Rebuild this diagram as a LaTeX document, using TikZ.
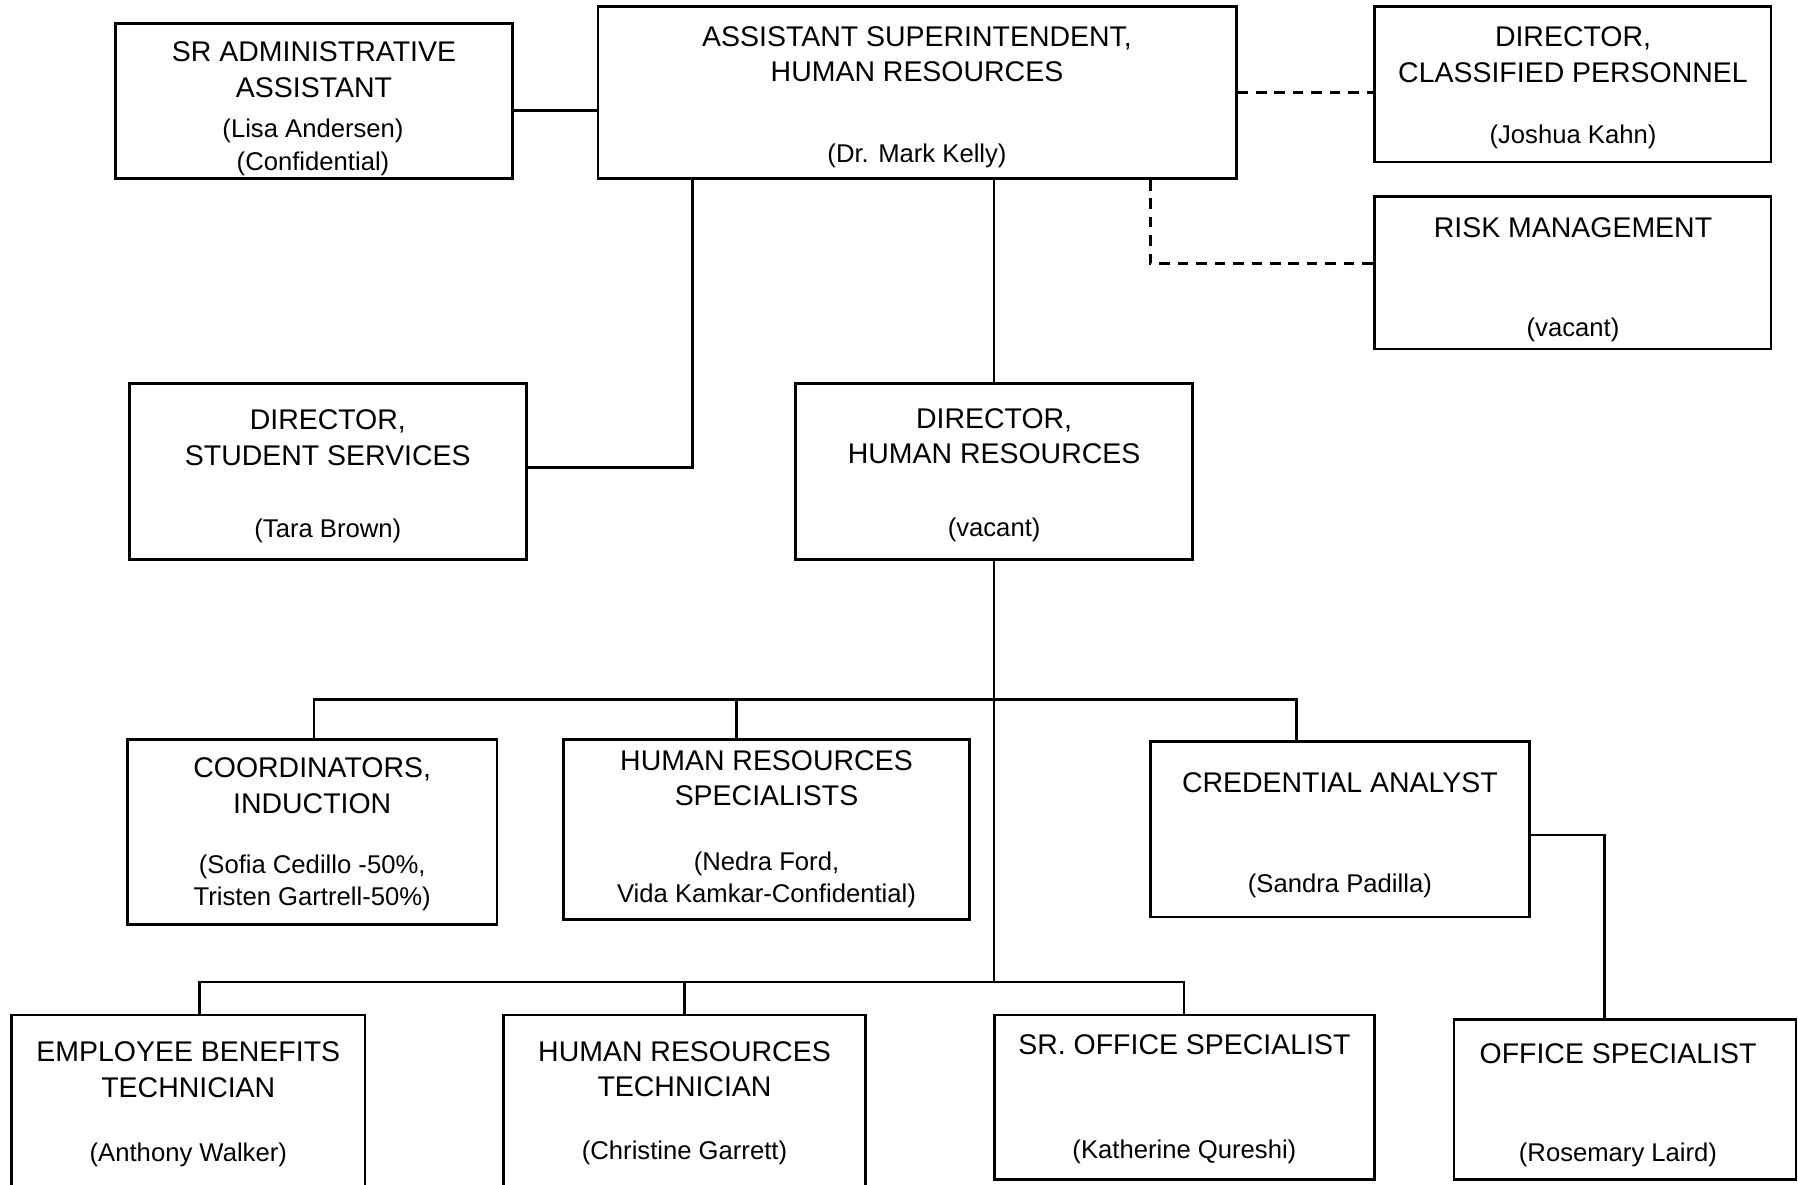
\documentclass[tikz,border=0pt]{standalone}
\usepackage{fontspec}
\setmainfont{Liberation Sans}
\usetikzlibrary{fit}

\begin{document}
\begin{tikzpicture}[x=0.02cm, y=-0.02cm,
    box/.style={draw, line width=1.5pt, inner sep=0pt},
    head/.style={align=center, inner sep=0pt, font=\fontsize{16.2}{20.2}\selectfont},
    who/.style={align=center, inner sep=0pt, font=\fontsize{14.6}{18.6}\selectfont},
    link/.style={line width=1.5pt},
    dashlink/.style={link, dash pattern=on 6pt off 4.5pt}]
    \useasboundingbox (0,0) rectangle (1798,1185);
    %boxes, corners in pixels of the chart
    \node[box, fit={(115.4,23.7) (512.6,178.7)}] (sradmin) {};
    \node[box, fit={(598,6.5) (1236.2,178.7)}] (asup) {};
    \node[box, fit={(1374.2,6.5) (1771,161.9)}] (dircp) {};
    \node[box, fit={(1374.2,196.7) (1771,349)}] (risk) {};
    \node[box, fit={(129.2,383.5) (526.3,559.5)}] (dss) {};
    \node[box, fit={(795.6,383.5) (1192.6,559.5)}] (dirhr) {};
    \node[box, fit={(127.4,739.5) (497,924.2)}] (coord) {};
    \node[box, fit={(563.7,739.5) (969.3,919.8)}] (hrspec) {};
    \node[box, fit={(1150.3,741.8) (1529.4,917.1)}] (cred) {};
    \node[box, fit={(11.5,1014.9) (365,1192)}] (ebt) {};
    \node[box, fit={(503.4,1014.9) (865.6,1192)}] (hrtech) {};
    \node[box, fit={(994.5,1014.9) (1374.2,1179.4)}] (sroff) {};
    \node[box, fit={(1453.8,1019.4) (1796,1179.4)}] (offsp) {};

    %titles and names
    \node[head] (sradmin-t) at (314,69.9) {SR ADMINISTRATIVE\\ASSISTANT};
    \node[who] (sradmin-n) at (313,147.5) {(Lisa Andersen)\\(Confidential)};
    \node[head] (asup-t) at (917,54.2) {ASSISTANT SUPERINTENDENT,\\HUMAN RESOURCES};
    \node[who] (asup-n) at (917,155.5) {(Dr. Mark Kelly)};
    \node[head] (dircp-t) at (1573,54.5) {DIRECTOR,\\CLASSIFIED PERSONNEL};
    \node[who] (dircp-n) at (1573,136.5) {(Joshua Kahn)};
    \node[head] (risk-t) at (1573,227.7) {RISK MANAGEMENT};
    \node[who] (risk-n) at (1573,330) {(vacant)};
    \node[head] (dss-t) at (327.8,437.6) {DIRECTOR,\\STUDENT SERVICES};
    \node[who] (dss-n) at (327.8,531) {(Tara Brown)};
    \node[head] (dirhr-t) at (994.1,436.3) {DIRECTOR,\\HUMAN RESOURCES};
    \node[who] (dirhr-n) at (994.1,530) {(vacant)};
    \node[head] (coord-t) at (312.2,785.6) {COORDINATORS,\\INDUCTION};
    \node[who] (coord-n) at (312.2,883) {(Sofia Cedillo -50\%,\\Tristen Gartrell-50\%)};
    \node[head] (hrspec-t) at (766.5,778) {HUMAN RESOURCES\\SPECIALISTS};
    \node[who] (hrspec-n) at (766.5,880) {(Nedra Ford,\\Vida Kamkar-Confidential)};
    \node[head] (cred-t) at (1339.9,782.8) {CREDENTIAL ANALYST};
    \node[who] (cred-n) at (1339.9,885.5) {(Sandra Padilla)};
    \node[head] (ebt-t) at (188.3,1069.8) {EMPLOYEE BENEFITS\\TECHNICIAN};
    \node[who] (ebt-n) at (188.3,1155) {(Anthony Walker)};
    \node[head] (hrtech-t) at (684.5,1069) {HUMAN RESOURCES\\TECHNICIAN};
    \node[who] (hrtech-n) at (684.5,1153) {(Christine Garrett)};
    \node[head] (sroff-t) at (1184.4,1044.7) {SR. OFFICE SPECIALIST};
    \node[who] (sroff-n) at (1184.4,1151.5) {(Katherine Qureshi)};
    \node[head] (offsp-t) at (1618,1053.3) {OFFICE SPECIALIST};
    \node[who] (offsp-n) at (1618,1155) {(Rosemary Laird)};

    %junction points
    \coordinate (yadm) at (0,110.6);
    \coordinate (ydss) at (692.8,467.7);
    \coordinate (ycp) at (0,92.2);
    \coordinate (yrisk) at (1150.3,263.3);
    \coordinate (bus1l) at (314,699.2);
    \coordinate (dhrs) at (736.4,699.2);
    \coordinate (bus1r) at (1296.3,699.2);
    \coordinate (bus2l) at (199.7,982);
    \coordinate (bus2r) at (1184,982);
    \coordinate (ycred) at (1604.4,835);

    %lines
    \draw[link] (sradmin.east |- yadm) -- (asup.west |- yadm);
    \draw[link] (asup.south -| ydss) -- (ydss) -- (dss.east |- ydss);
    \draw[link] (asup.south -| dirhr.north) -- (dirhr.north);
    \draw[dashlink] (asup.east |- ycp) -- (dircp.west |- ycp);
    \draw[dashlink] (asup.south -| yrisk) -- (yrisk) -- (risk.west |- yrisk);
    \draw[link] (dirhr.south) -- (dirhr.south |- bus2l);
    \draw[link] (coord.north -| bus1l) -- (bus1l) -- (bus1r) -- (cred.north -| bus1r);
    \draw[link] (dhrs) -- (hrspec.north -| dhrs);
    \draw[link] (ebt.north -| bus2l) -- (bus2l) -- (bus2r) -- (sroff.north -| bus2r);
    \draw[link] (hrtech.north |- bus2l) -- (hrtech.north);
    \draw[link] (cred.east |- ycred) -- (ycred) -- (offsp.north -| ycred);
\end{tikzpicture}
\end{document}
